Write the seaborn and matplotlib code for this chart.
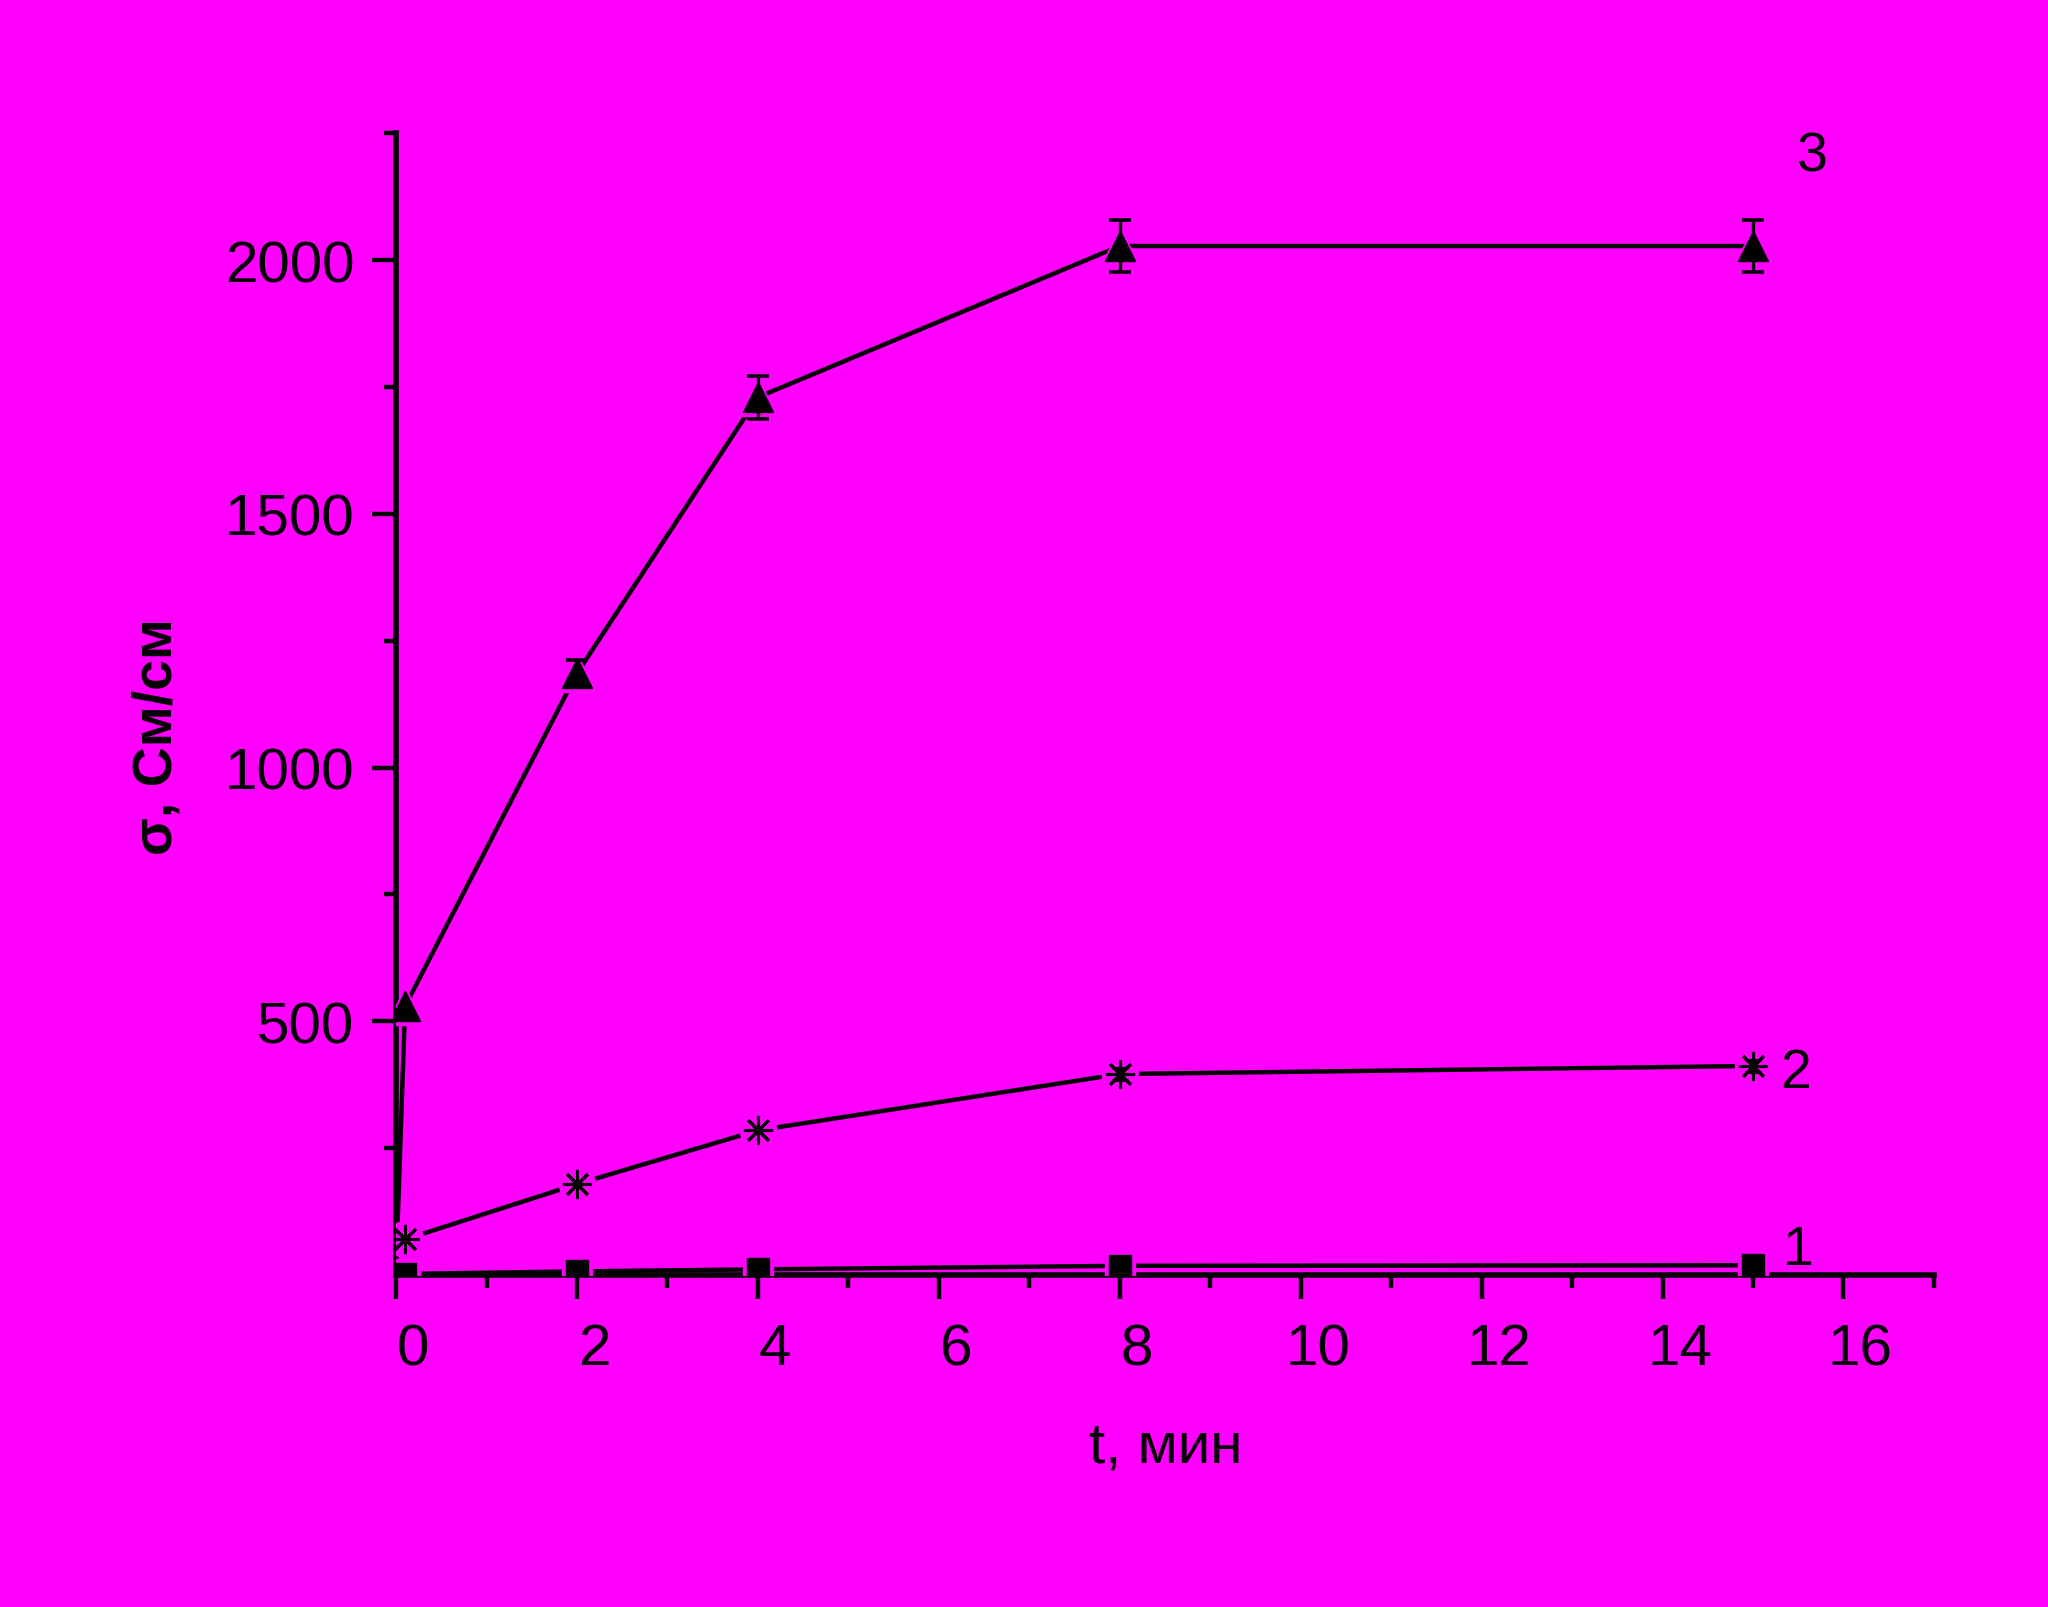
import matplotlib
matplotlib.use("Agg")
import matplotlib.pyplot as plt
import matplotlib.transforms as mtransforms
import seaborn as sns
import pandas as pd
import numpy as np

# ДАННЫЕ
t1 = [0.1, 2, 4, 8, 15]
sigma1 = [2, 7, 11, 18, 19]

t2 = [0.1, 2, 4, 8, 15]
sigma2 = [70, 179, 285, 396, 412]
err2 = [0, 0, 0, 12, 12]

t3 = [0, 0.1, 2, 4, 8, 15]
sigma3 = [15, 530, 1186, 1730, 2028, 2028]
err3 = [0, 0, 27, 42, 52, 52]

curve_labels = ["1", "2", "3"]
label_x = [15.5, 15.47, 15.65]
label_y = [50, 398, 2205]

x_ticks = list(range(0, 17, 2))
y_ticks = [500, 1000, 1500, 2000]

BG = "#FF00FF"

sns.set_theme(style="ticks")
plt.rcParams['font.family'] = ['Liberation Sans', 'DejaVu Sans']
plt.rcParams['axes.linewidth'] = 4
plt.rcParams['text.color'] = 'black'
plt.rcParams['axes.labelcolor'] = 'black'

fig = plt.figure(figsize=(20.48, 16.08), dpi=100, facecolor=BG)
ax = fig.add_axes([0.1934, 0.2065, 0.9443 - 0.1934, 0.9164 - 0.2065])
ax.set_facecolor(BG)

lw = 3.2
df1 = pd.DataFrame({"t": t1, "s": sigma1})
df2 = pd.DataFrame({"t": t2, "s": sigma2})
df3 = pd.DataFrame({"t": t3, "s": sigma3})
for d in (df1, df2, df3):
    sns.lineplot(data=d, x="t", y="s", ax=ax, color="black", lw=lw,
                 sort=False, estimator=None, zorder=2)

# ореол вокруг маркеров (разрыв линии, как в Origin)
ax.plot(t1, sigma1, ls="none", marker="s", ms=21, color=BG, zorder=3)
ax.plot(t2, sigma2, ls="none", marker="o", ms=26, color=BG, zorder=3)
ax.plot(t3[1:], sigma3[1:], ls="none", marker="^", ms=27, color=BG, zorder=3)

# погрешности
ax.errorbar(t3[2:], sigma3[2:], yerr=err3[2:], fmt="none", ecolor="black",
            elinewidth=2.4, capsize=8, capthick=2.6, zorder=4)
ax.errorbar(t2[3:], sigma2[3:], yerr=err2[3:], fmt="none", ecolor="black",
            elinewidth=2.2, capsize=6, capthick=2.2, zorder=4)

# маркеры
ax.plot(t1, sigma1, ls="none", marker="s", ms=16, color="black", zorder=5)
ax.plot(t2, sigma2, ls="none", marker=(8, 2, 0), ms=21, mew=2.2, color="black", zorder=5)
ax.plot(t3[1:], sigma3[1:], ls="none", marker="^", ms=21, color="black", zorder=5)

for lab, lx, ly in zip(curve_labels, label_x, label_y):
    ax.text(lx, ly, lab, fontsize=40, ha="center", va="center", color="black")

ax.set_xlim(0, 17)
ax.set_ylim(0, 2250)
ax.set_xticks(x_ticks)
ax.set_xticks(np.arange(1, 18, 2), minor=True)
ax.set_yticks(y_ticks)
ax.set_yticks(np.arange(250, 2251, 500), minor=True)
ax.tick_params(axis="both", which="major", direction="out", length=17, width=3.2,
               labelsize=42, color="black", labelcolor="black")
ax.tick_params(axis="both", which="minor", direction="out", length=9, width=3.2, color="black")
ax.tick_params(axis="x", which="major", pad=17)
ax.tick_params(axis="y", which="major", pad=13)
for s in ["top", "right"]:
    ax.spines[s].set_visible(False)
for s in ["left", "bottom"]:
    ax.spines[s].set_color("black")

shift = mtransforms.ScaledTranslation(0.17, 0, fig.dpi_scale_trans)
for lab in ax.get_xticklabels():
    lab.set_transform(lab.get_transform() + shift)

ax.set_xlabel("")
ax.set_ylabel("")
fig.text(0.569, 0.1001, "t, мин", fontsize=42, ha="center", va="center", color="black")
fig.text(0.0771, 0.5417, "σ, См/см", fontsize=40, fontweight="bold",
         rotation=90, ha="center", va="center", color="black")

fig.savefig("out.png", dpi=100, facecolor=BG)
